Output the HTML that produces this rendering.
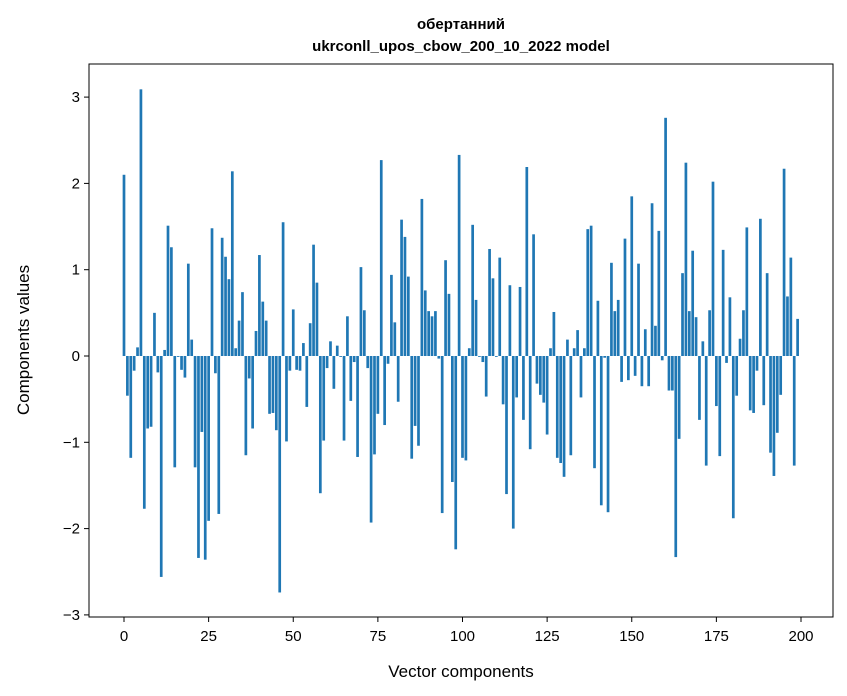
<!DOCTYPE html>
<html><head><meta charset="utf-8"><style>
body{margin:0;background:#fff;}
svg{display:block;font-family:"Liberation Sans","DejaVu Sans",sans-serif;}
</style></head><body>
<svg id="chart" width="847" height="696" xmlns="http://www.w3.org/2000/svg">
<rect width="847" height="696" fill="#fff"/>
<text x="461" y="29" text-anchor="middle" font-size="15" font-weight="bold">обертанний</text>
<text x="461" y="51" text-anchor="middle" font-size="15" font-weight="bold">ukrconll_upos_cbow_200_10_2022 model</text>
<g id="bars"></g>
<g id="axes"></g>
<rect x="89" y="64" width="744" height="553" fill="none" stroke="#000" stroke-width="1"/>
<text x="461" y="677" text-anchor="middle" font-size="17">Vector components</text>
<text transform="translate(29,340) rotate(-90)" text-anchor="middle" font-size="17">Components values</text>
</svg>
<script>
const values = [2.10,-0.46,-1.18,-0.17,0.10,3.09,-1.77,-0.84,-0.82,0.50,-0.19,-2.56,0.07,1.51,1.26,-1.29,-0.01,-0.16,-0.25,1.07,0.19,-1.29,-2.34,-0.88,-2.36,-1.91,1.48,-0.20,-1.83,1.37,1.15,0.89,2.14,0.09,0.41,0.74,-1.15,-0.26,-0.84,0.29,1.17,0.63,0.41,-0.67,-0.66,-0.86,-2.74,1.55,-0.99,-0.17,0.54,-0.16,-0.17,0.15,-0.59,0.38,1.29,0.85,-1.59,-0.98,-0.14,0.17,-0.38,0.12,-0.01,-0.98,0.46,-0.52,-0.07,-1.17,1.03,0.53,-0.14,-1.93,-1.14,-0.67,2.27,-0.80,-0.09,0.94,0.39,-0.53,1.58,1.38,0.92,-1.19,-0.81,-1.04,1.82,0.76,0.52,0.46,0.52,-0.03,-1.82,1.11,0.72,-1.46,-2.24,2.33,-1.18,-1.21,0.09,1.52,0.65,-0.01,-0.07,-0.47,1.24,0.90,-0.01,1.14,-0.56,-1.60,0.82,-2.00,-0.48,0.80,-0.74,2.19,-1.08,1.41,-0.32,-0.45,-0.54,-0.91,0.09,0.51,-1.18,-1.24,-1.40,0.19,-1.15,0.09,0.30,-0.48,0.09,1.47,1.51,-1.30,0.64,-1.73,-0.02,-1.81,1.08,0.52,0.65,-0.30,1.36,-0.28,1.85,-0.23,1.07,-0.35,0.31,-0.35,1.77,0.35,1.45,-0.05,2.76,-0.40,-0.40,-2.33,-0.96,0.96,2.24,0.52,1.22,0.45,-0.74,0.17,-1.27,0.53,2.02,-0.58,-1.16,1.23,-0.08,0.68,-1.88,-0.46,0.20,0.53,1.49,-0.63,-0.66,-0.17,1.59,-0.57,0.96,-1.12,-1.39,-0.89,-0.45,2.17,0.69,1.14,-1.27,0.43];
const xTicks = [0,25,50,75,100,125,150,175,200];
const yTicks = [-3,-2,-1,0,1,2,3];
const yTickLabels = ["\u22123","\u22122","\u22121","0","1","2","3"];

const NS="http://www.w3.org/2000/svg";
function xs(i){return 124+i*3.385;}
function ys(v){return 356-v*86.3;}
const bars=document.getElementById('bars');
values.forEach((v,i)=>{
  const r=document.createElementNS(NS,'rect');
  
  
  const w=2.7;
  r.setAttribute('x',xs(i)-w/2);
  r.setAttribute('width',w);
  r.setAttribute('y',Math.min(ys(v),ys(0)));
  r.setAttribute('height',Math.abs(ys(v)-ys(0)));
  r.setAttribute('fill','#1f77b4');
  bars.appendChild(r);
});
const axes=document.getElementById('axes');
xTicks.forEach(t=>{
  const l=document.createElementNS(NS,'line');
  
  
  l.setAttribute('x1',xs(t));l.setAttribute('x2',xs(t));
  l.setAttribute('y1',617);l.setAttribute('y2',622);
  l.setAttribute('stroke','#000');
  axes.appendChild(l);
  const tx=document.createElementNS(NS,'text');
  
  
  tx.setAttribute('x',xs(t));tx.setAttribute('y',641);
  tx.setAttribute('text-anchor','middle');tx.setAttribute('font-size','15');
  tx.textContent=String(t);
  axes.appendChild(tx);
});
yTicks.forEach((t,k)=>{
  const l=document.createElementNS(NS,'line');
  
  
  l.setAttribute('x1',84);l.setAttribute('x2',89);
  l.setAttribute('y1',ys(t));l.setAttribute('y2',ys(t));
  l.setAttribute('stroke','#000');
  axes.appendChild(l);
  const tx=document.createElementNS(NS,'text');
  
  
  tx.setAttribute('x',80);tx.setAttribute('y',ys(t)+5);
  tx.setAttribute('text-anchor','end');tx.setAttribute('font-size','15');
  tx.textContent=yTickLabels[k];
  axes.appendChild(tx);
});
</script>
</body></html>
